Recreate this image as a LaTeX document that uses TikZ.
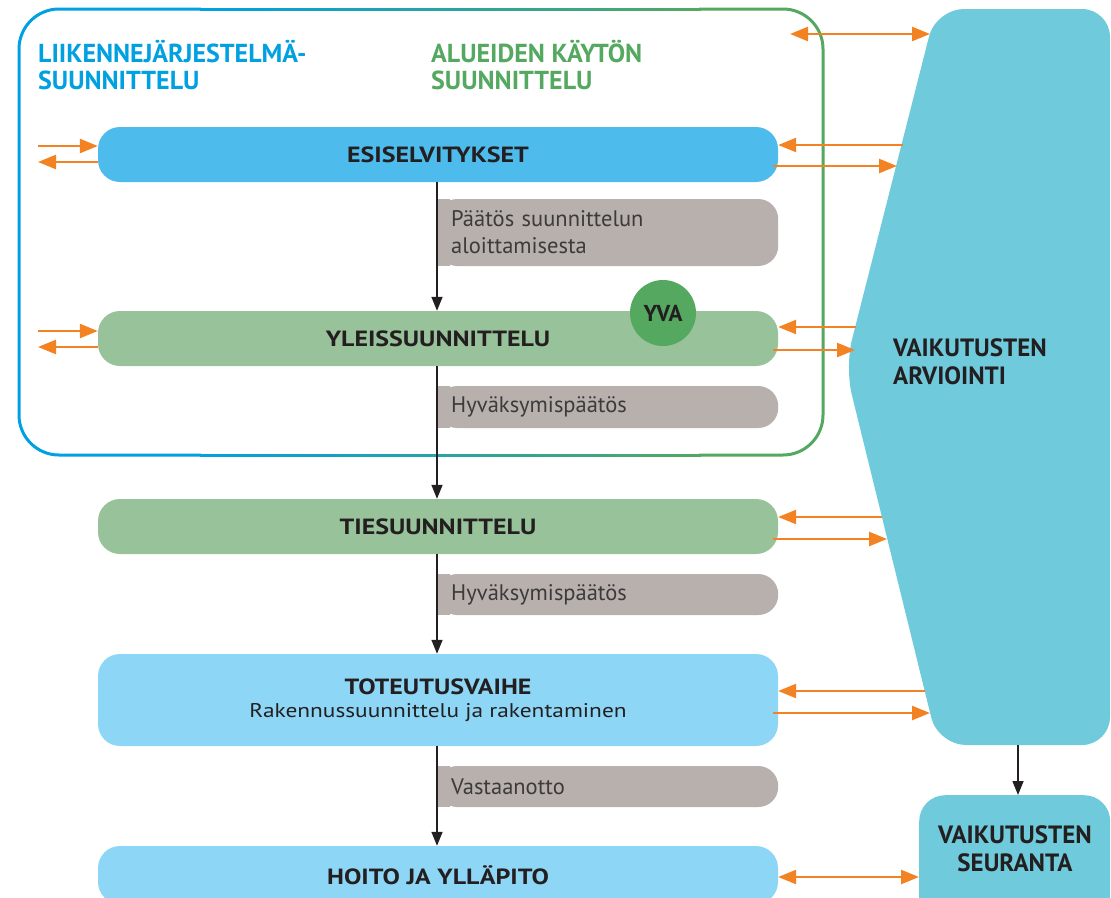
\documentclass[tikz,border=0pt]{standalone}
\usepackage{fontspec}
\setmainfont{PT Sans}
\newfontfamily\barfamily[FakeStretch=1.18]{PT Sans}
\usetikzlibrary{arrows.meta,positioning}

\definecolor{frameBlue}{RGB}{0,160,225}
\definecolor{frameGreen}{RGB}{84,168,96}
\definecolor{esiBlue}{RGB}{77,187,235}
\definecolor{planGreen}{RGB}{152,194,153}
\definecolor{yvaGreen}{RGB}{84,168,96}
\definecolor{buildBlue}{RGB}{142,214,246}
\definecolor{decGray}{RGB}{183,176,173}
\definecolor{impactCyan}{RGB}{111,203,220}
\definecolor{arrOrange}{RGB}{243,130,34}
\definecolor{darkText}{RGB}{35,31,32}
\definecolor{grayText}{RGB}{60,58,58}

\tikzset{
  phase/.style={fill=#1, rounded corners=22pt, minimum width=680pt,
    minimum height=55pt, inner sep=0pt, text=darkText, align=center,
    font=\barfamily\fontsize{22}{26}\selectfont\bfseries},
  decision/.style={fill=decGray, rounded corners=20pt, anchor=west,
    text width=313pt, inner xsep=14pt, inner ysep=0pt, align=left,
    minimum height=#1, text=grayText, font=\fontsize{22.5}{27}\selectfont},
  heading/.style={anchor=north west, inner sep=0pt, align=left,
    text=#1, font=\fontsize{26}{27}\selectfont\bfseries},
  oarr/.style={draw=arrOrange, line width=2.5pt,
    -{Triangle[length=18pt,width=14pt]}},
  odbl/.style={draw=arrOrange, line width=2.5pt,
    {Triangle[length=18pt,width=14pt]}-{Triangle[length=18pt,width=14pt]}},
  flow/.style={draw=darkText, line width=1.5pt,
    -{Triangle[length=14pt,width=11pt]}},
  framebar/.style={line width=3pt}
}

\begin{document}
\begin{tikzpicture}[x=1pt,y=-1pt]
\useasboundingbox (0,0) rectangle (1111,897);
\clip (0,0) rectangle (1111,897);

% planning frame, blue on the left fading into green
\draw[framebar, draw=frameBlue, rounded corners=40pt]
  (201,9) -- (19,9) -- (19,455) -- (201,455);
\draw[framebar, draw=frameGreen, rounded corners=40pt]
  (699,9) -- (823,9) -- (823,455) -- (699,455);
\foreach \i in {0,...,49} {
  \pgfmathtruncatemacro\p{2*\i}
  \draw[framebar, draw={frameGreen!\p!frameBlue}]
    (200+10*\i,9) -- (211+10*\i,9)
    (200+10*\i,455) -- (211+10*\i,455);
}

\node[heading=frameBlue] (hLiik) at (38,40) {LIIKENNEJÄRJESTELMÄ-\\SUUNNITTELU};
\node[heading=frameGreen] (hAlue) at (431,40) {ALUEIDEN KÄYTÖN\\SUUNNITTELU};

% impact assessment
\fill[impactCyan, rounded corners=28pt]
  (936,9) -- (1110,9) -- (1110,745) -- (938,745) -- (845,367) -- cycle;
\node[anchor=west, align=left, inner sep=0pt, text=darkText,
  font=\fontsize{25}{28}\selectfont\bfseries] (arvio) at (893,362)
  {VAIKUTUSTEN\\ARVIOINTI};
\node[fill=impactCyan, rounded corners=26pt, minimum width=191pt,
  minimum height=130pt, anchor=north west, inner sep=0pt] (seur) at (919,795) {};
\node[align=center, inner sep=0pt, text=darkText,
  font=\fontsize{25}{28}\selectfont\bfseries] (seurT) at (1015,849)
  {VAIKUTUSTEN\\SEURANTA};
\coordinate (arvioBot) at (1018,745);

% phases
\node[phase=esiBlue] (esi) at (438,154.5) {ESISELVITYKSET};
\node[phase=planGreen] (yleis) at (438,338.5) {YLEISSUUNNITTELU};
\node[phase=planGreen] (ties) at (438,526.5) {TIESUUNNITTELU};
\node[phase=buildBlue, minimum height=92pt] (tot) at (438,700)
  {TOTEUTUSVAIHE\\[-3pt]{\mdseries\fontsize{19.8}{24}\selectfont Rakennussuunnittelu ja rakentaminen}};
\node[phase=buildBlue, minimum height=58pt] (hoito) at (438,875) {HOITO JA YLLÄPITO};
\node[circle, fill=yvaGreen, minimum size=66pt, inner sep=0pt, text=darkText,
  font=\fontsize{23}{26}\selectfont\bfseries] (yva) at (663,313) {YVA};

% decisions
\node[decision=67pt] (d1) at (437,232.5) {Päätös suunnittelun\\aloittamisesta};
\node[decision=42pt] (d2) at (437,407) {Hyväksymispäätös};
\node[decision=41pt] (d3) at (437,594.5) {Hyväksymispäätös};
\node[decision=41pt] (d4) at (437,786.5) {Vastaanotto};
\foreach \d in {d1,d2,d3,d4}
  \fill[decGray] (\d.north west) rectangle ([xshift=13pt]\d.south west);

% main flow
\draw[flow] (esi.south -| d1.west) -- (yleis.north -| d1.west);
\draw[flow] (yleis.south -| d1.west) -- (ties.north -| d1.west);
\draw[flow] (ties.south -| d1.west) -- (tot.north -| d1.west);
\draw[flow] (tot.south -| d1.west) -- (hoito.north -| d1.west);
\draw[flow] (arvioBot) -- (arvioBot |- seur.north);

% links to the left
\coordinate (lEsiIn) at (38,146);
\coordinate (lEsiOut) at (38,162);
\coordinate (lYleIn) at (38,331);
\coordinate (lYleOut) at (38,347);
\draw[oarr] (lEsiIn) -- (lEsiIn -| esi.west);
\draw[oarr] (lEsiOut -| esi.west) -- (lEsiOut);
\draw[oarr] (lYleIn) -- (lYleIn -| yleis.west);
\draw[oarr] (lYleOut -| yleis.west) -- (lYleOut);

% links to the impact assessment
\coordinate (aTopL) at (790,34);
\coordinate (aTopR) at (930,34);
\coordinate (aEsiIn) at (903,145);
\coordinate (aEsiOut) at (897,166);
\coordinate (aYleIn) at (856,327);
\coordinate (aYleOut) at (855,350);
\coordinate (aTieIn) at (882,517);
\coordinate (aTieOut) at (887,539);
\coordinate (aTotIn) at (925,691);
\coordinate (aTotOut) at (930,713);
\draw[odbl] (aTopL) -- (aTopR);
\draw[oarr] (aEsiIn) -- (aEsiIn -| esi.east);
\draw[oarr] ([xshift=-5pt]aEsiOut -| esi.east) -- (aEsiOut);
\draw[oarr] (aYleIn) -- (aYleIn -| yleis.east);
\draw[oarr] ([xshift=-5pt]aYleOut -| yleis.east) -- (aYleOut);
\draw[oarr] (aTieIn) -- (aTieIn -| ties.east);
\draw[oarr] ([xshift=-5pt]aTieOut -| ties.east) -- (aTieOut);
\draw[oarr] (aTotIn) -- (aTotIn -| tot.east);
\draw[oarr] ([xshift=-5pt]aTotOut -| tot.east) -- (aTotOut);
\draw[odbl] (hoito.east |- 0,877) -- (seur.west |- 0,877);
\end{tikzpicture}
\end{document}
